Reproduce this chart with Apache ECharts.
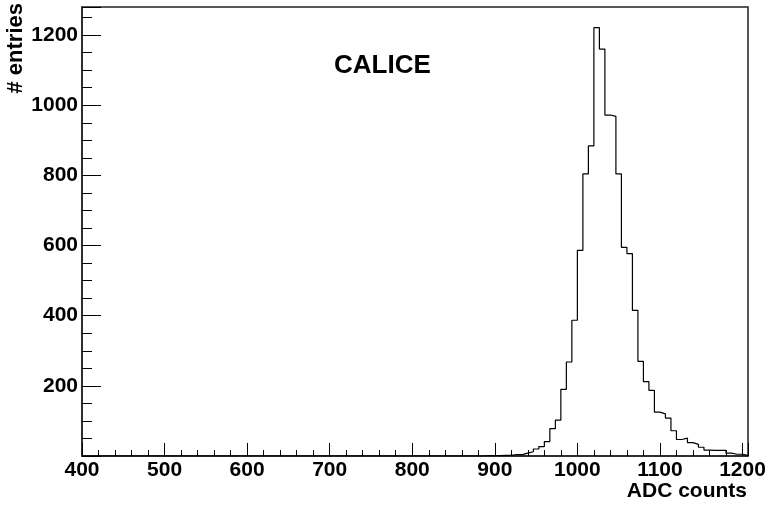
<!DOCTYPE html>
<html>
<head>
<meta charset="utf-8">
<script src="https://cdn.jsdelivr.net/npm/echarts@6/dist/echarts.min.js"></script>
<style>
  html, body { margin: 0; padding: 0; background: #fff; }
  #chart-container { width: 766px; height: 507px; }
</style>
</head>
<body>
<div id="chart-container"></div>
<script>
var dom = document.getElementById('chart-container');
var myChart = echarts.init(dom, null, { renderer: 'canvas' });

// histogram definition: 121 bins from 400 to 1206.67 ADC counts
var histMin = 400;
var histMax = 1206.6667;
var nBins = 121;
var firstBin = 70; // bins before this one are empty

// entries per bin, starting at bin firstBin
var counts = [
  0, 0, 0, 1, 1, 1, 2, 2, 4, 4,
  8, 12, 20, 27, 41, 78, 102, 190, 268, 387,
  586, 804, 884, 1221, 1160, 972, 968, 804, 595, 577,
  415, 270, 212, 187, 125, 120, 108, 72, 47, 51,
  38, 33, 25, 17, 16, 16, 16, 8, 5, 5,
  2
];

var xTicks = [400, 500, 600, 700, 800, 900, 1000, 1100, 1200];
var yTicks = [200, 400, 600, 800, 1000, 1200];

var binWidth = (histMax - histMin) / nBins;
var data = [[histMin, 0]];
for (var i = 0; i < counts.length; i++) {
  data.push([histMin + (firstBin + i) * binWidth, counts[i]]);
}
data.push([histMax, 0]);

var font = 'Liberation Sans, Arial, Helvetica, sans-serif';
var option;

option = {
  animation: false,
  backgroundColor: '#fff',
  title: {
    text: 'CALICE',
    left: 329,
    top: 48,
    textStyle: { fontFamily: font, fontWeight: 'bold', fontSize: 26, color: '#000' }
  },
  // y axis title, rotated, reading upwards
  graphic: [{
    type: 'text',
    x: 27,
    y: 3,
    rotation: Math.PI / 2,
    style: {
      text: '# entries',
      font: 'bold 22px ' + font,
      fill: '#000',
      align: 'right',
      verticalAlign: 'bottom'
    }
  }],
  grid: {
    left: 82,
    right: 18,
    top: 7,
    bottom: 51,
    outerBoundsMode: 'none',
    show: true,
    borderColor: '#222',
    borderWidth: 1.5
  },
  xAxis: {
    type: 'value',
    min: histMin,
    max: histMax,
    interval: 100,
    name: 'ADC counts',
    nameLocation: 'end',
    nameGap: -1,
    nameTextStyle: {
      fontFamily: font, fontWeight: 'bold', fontSize: 21, color: '#000',
      align: 'right', verticalAlign: 'top', padding: [25, 0, 0, 0]
    },
    axisLine: { lineStyle: { color: '#222', width: 1.5 } },
    axisTick: { inside: true, length: 13, lineStyle: { color: '#000' } },
    minorTick: { show: true, splitNumber: 5, length: 6, lineStyle: { color: '#000' } },
    splitLine: { show: false },
    axisLabel: {
      margin: 4,
      fontFamily: font, fontWeight: 'bold', fontSize: 21, color: '#000',
      showMaxLabel: false,
      formatter: function (v) { return xTicks.indexOf(v) >= 0 ? String(v) : ''; }
    }
  },
  yAxis: {
    type: 'value',
    min: 0,
    max: 1280,
    interval: 200,
    axisLine: { show: true, lineStyle: { color: '#222', width: 1.5 } },
    axisTick: { show: true, inside: true, length: 19, lineStyle: { color: '#000' } },
    minorTick: { show: true, splitNumber: 4, length: 10, lineStyle: { color: '#000' } },
    splitLine: { show: false },
    axisLabel: {
      margin: 4,
      fontFamily: font, fontWeight: 'bold', fontSize: 21, color: '#000',
      showMaxLabel: false,
      formatter: function (v) { return yTicks.indexOf(v) >= 0 ? String(v) : ''; }
    }
  },
  series: [{
    type: 'line',
    step: 'end',
    data: data,
    symbol: 'none',
    lineStyle: { color: '#000', width: 1.2 }
  }]
};

if (option && typeof option === 'object') {
  myChart.setOption(option);
}

window.addEventListener('resize', myChart.resize);
</script>
</body>
</html>
